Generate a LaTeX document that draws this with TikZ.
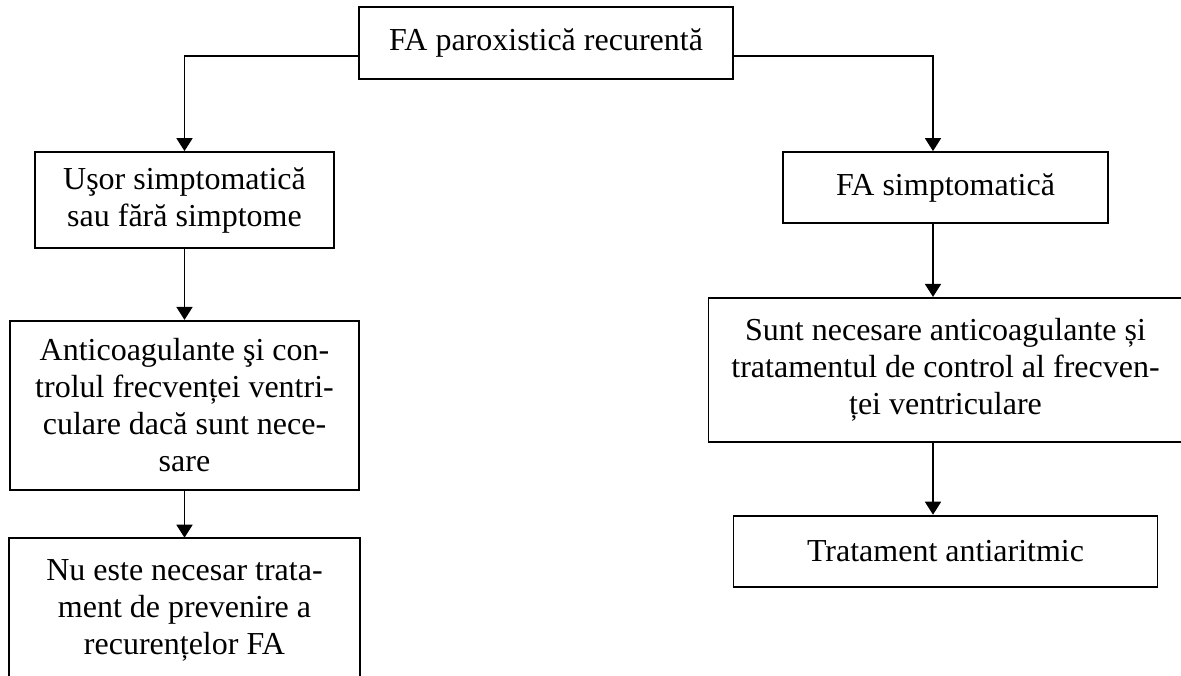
\documentclass[tikz,border=0pt]{standalone}
\usepackage{fontspec}
\setmainfont{Liberation Serif}
\usetikzlibrary{positioning,arrows.meta}

\begin{document}
\begin{tikzpicture}[
    x=0.5pt, y=-0.5pt,
    box/.style={
        rectangle,
        draw,
        line width=0.9pt,
        inner sep=2pt,
        align=center,
        font=\fontsize{16}{18.5}\selectfont
    },
    arrow/.style={-{Triangle[length=6.5pt,width=8pt]}, line width=0.9pt}
]

\useasboundingbox (0,0) rectangle (1181,675);
\clip (0,0) rectangle (1181,675);

\node[box, minimum width=187pt, minimum height=36pt] (fa) at (546,43) {FA paroxistică recurentă};

% left branch
\node[box, minimum width=149.5pt, minimum height=48pt] (usor) at (184.5,200) {Uşor simptomatică\\sau fără simptome};
\node[box, minimum width=174.5pt, minimum height=84.5pt, below=35.5pt of usor] (antic) {Anticoagulante şi con-\\trolul frecvenței ventri-\\culare dacă sunt nece-\\sare};
\node[box, draw=none, minimum width=174.5pt, inner ysep=10.5pt, below=23.5pt of antic] (nu) {Nu este necesar trata-\\ment de prevenire a\\recurențelor FA};
\draw[line width=0.9pt] ([yshift=-20pt]nu.south west) -- (nu.north west) -- (nu.north east) -- ([yshift=-20pt]nu.south east);

% right branch
\coordinate (rcol) at (933,0);
\node[box, minimum width=162.5pt, minimum height=35.5pt] (simpt) at (945.5,187.5) {FA simptomatică};
\node[box, minimum width=237pt, minimum height=72pt, below=36.5pt of simpt] (nec) {Sunt necesare anticoagulante și\\tratamentul de control al frecven-\\ței ventriculare};
\node[box, minimum width=212pt, minimum height=35.5pt, below=36pt of nec] (trat) {Tratament antiaritmic};

\draw[arrow] ([yshift=-6.5pt]fa.west) -| (usor.north);
\draw[arrow] (usor) -- (antic);
\draw[arrow] (antic) -- (nu);
\draw[arrow] ([yshift=-6.5pt]fa.east) -| (simpt.north -| rcol);
\draw[arrow] (simpt.south -| rcol) -- (nec.north -| rcol);
\draw[arrow] (nec.south -| rcol) -- (trat.north -| rcol);

\end{tikzpicture}
\end{document}
